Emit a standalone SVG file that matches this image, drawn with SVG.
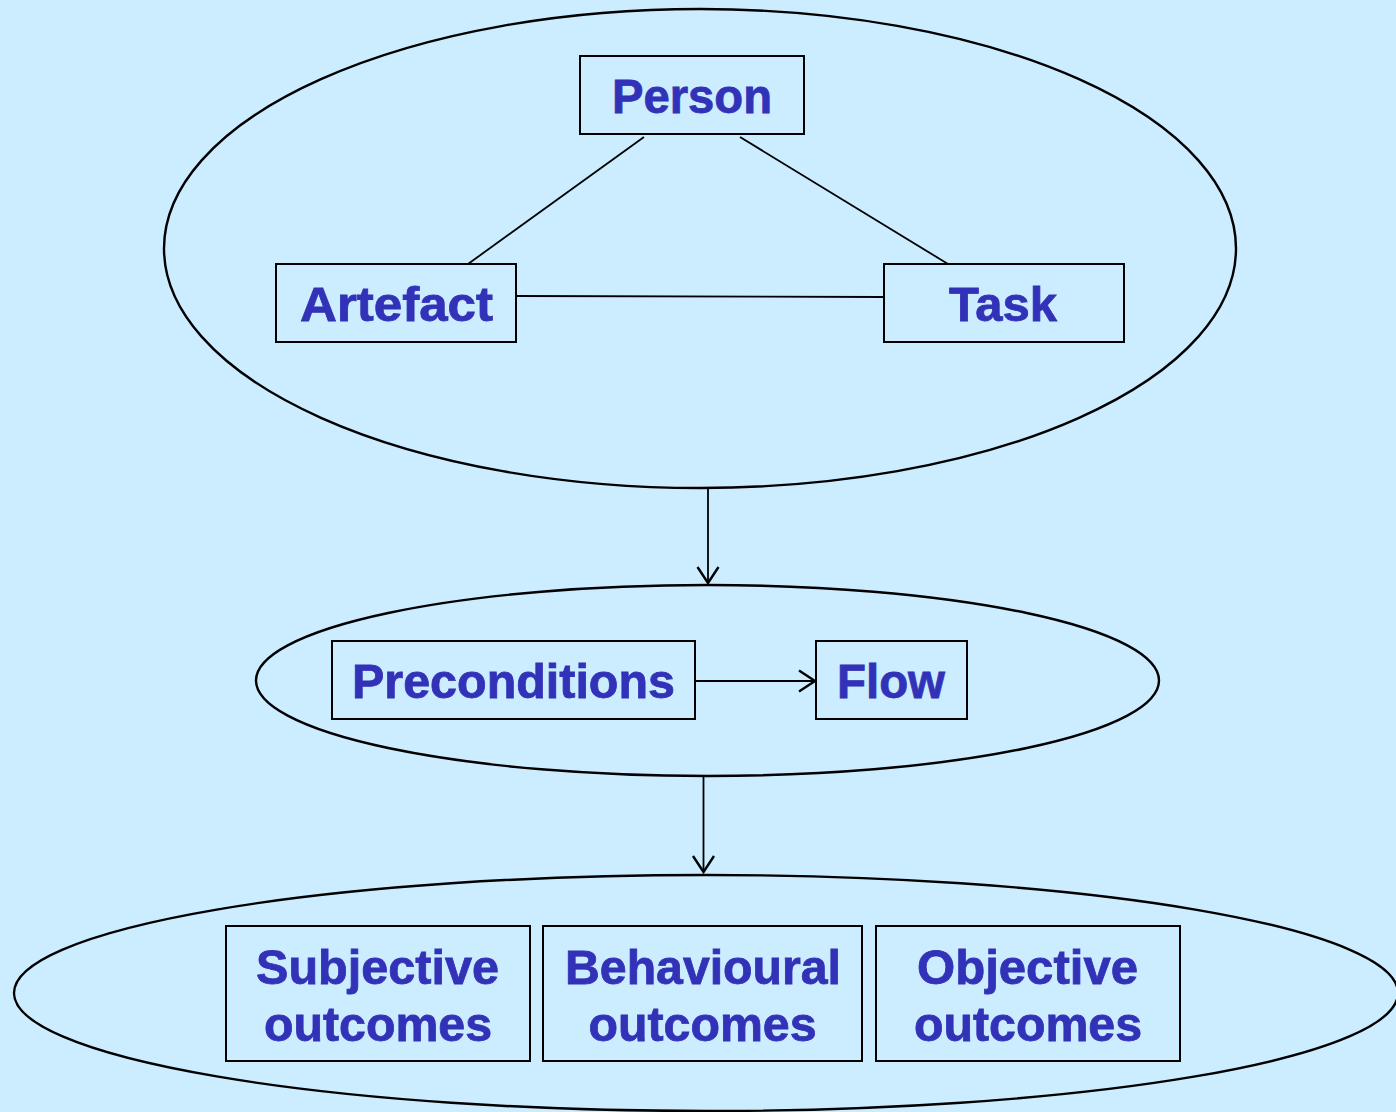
<svg xmlns="http://www.w3.org/2000/svg" width="1396" height="1112" viewBox="0 0 1396 1112">
<defs>
<marker id="arr" markerWidth="26" markerHeight="26" refX="20" refY="12" orient="auto" markerUnits="userSpaceOnUse">
<path d="M4,1.5 L20,12 L4,22.5" fill="none" stroke="#000" stroke-width="2.4"/>
</marker>
<style>
.el{fill:none;stroke:#000;stroke-width:2.4}
.box{fill:none;stroke:#000;stroke-width:2}
.ln{stroke:#000;stroke-width:1.8;fill:none}
.t{font-family:"Liberation Sans",Arial,sans-serif;font-weight:bold;font-size:48px;fill:#3232B8;stroke:#3232B8;stroke-width:0.8;text-anchor:middle}
</style>
</defs>
<rect x="0" y="0" width="1396" height="1112" fill="#CCECFF"/>
<g id="group-top"><ellipse class="el" cx="700" cy="248.5" rx="536" ry="239.5"/></g>
<g id="group-middle"><ellipse class="el" cx="707.5" cy="680.5" rx="451.5" ry="95.5"/></g>
<g id="group-bottom"><ellipse class="el" cx="706" cy="993" rx="692" ry="118"/></g>
<g id="connectors">
<line class="ln" x1="644" y1="137" x2="468" y2="264"/>
<line class="ln" x1="740" y1="137" x2="948" y2="264"/>
<line class="ln" x1="516" y1="296" x2="884" y2="297"/>
<line class="ln" x1="708" y1="489" x2="708" y2="583" marker-end="url(#arr)"/>
<line class="ln" x1="695" y1="681" x2="815" y2="681" marker-end="url(#arr)"/>
<line class="ln" x1="703.5" y1="777" x2="703.5" y2="872" marker-end="url(#arr)"/>
</g>
<g id="person"><rect class="box" x="580" y="56" width="224" height="78"/><text class="t" x="692" y="113" textLength="160" lengthAdjust="spacingAndGlyphs">Person</text></g>
<g id="artefact"><rect class="box" x="276" y="264" width="240" height="78"/><text class="t" x="396.5" y="321" textLength="193" lengthAdjust="spacingAndGlyphs">Artefact</text></g>
<g id="task"><rect class="box" x="884" y="264" width="240" height="78"/><text class="t" x="1003" y="321" textLength="108" lengthAdjust="spacingAndGlyphs">Task</text></g>
<g id="preconditions"><rect class="box" x="332" y="641" width="363" height="78"/><text class="t" x="513.5" y="698" textLength="323" lengthAdjust="spacingAndGlyphs">Preconditions</text></g>
<g id="flow"><rect class="box" x="816" y="641" width="151" height="78"/><text class="t" x="891" y="698" textLength="108" lengthAdjust="spacingAndGlyphs">Flow</text></g>
<g id="subjective"><rect class="box" x="226" y="926" width="304" height="135"/><text class="t" x="377.5" y="984" textLength="243" lengthAdjust="spacingAndGlyphs">Subjective</text><text class="t" x="378" y="1041" textLength="228" lengthAdjust="spacingAndGlyphs">outcomes</text></g>
<g id="behavioural"><rect class="box" x="543" y="926" width="319" height="135"/><text class="t" x="703" y="984" textLength="276" lengthAdjust="spacingAndGlyphs">Behavioural</text><text class="t" x="702.5" y="1041" textLength="228" lengthAdjust="spacingAndGlyphs">outcomes</text></g>
<g id="objective"><rect class="box" x="876" y="926" width="304" height="135"/><text class="t" x="1027.5" y="984" textLength="221" lengthAdjust="spacingAndGlyphs">Objective</text><text class="t" x="1028" y="1041" textLength="228" lengthAdjust="spacingAndGlyphs">outcomes</text></g>
</svg>
